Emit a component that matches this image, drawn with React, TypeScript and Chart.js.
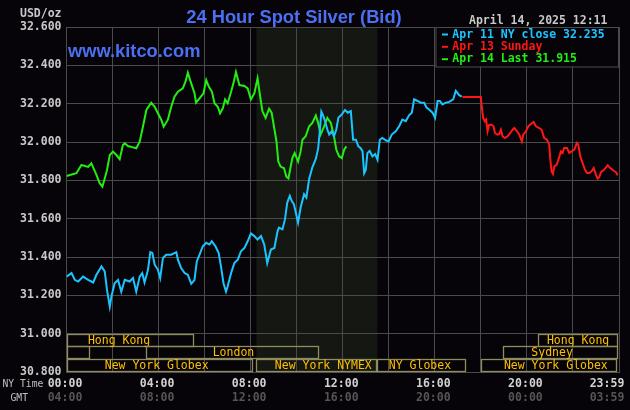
import React, { useEffect, useRef } from "react";
import { Chart, registerables } from "chart.js";

Chart.register(...registerables);

// ---- data (hours in NY time, price in USD/oz) ----
const apr11Hours = [0.00,0.22,0.36,0.51,0.72,0.94,1.16,1.30,1.52,1.66,1.76,1.88,1.95,2.09,2.24,2.38,2.53,2.74,2.89,3.03,3.18,3.29,3.39,3.54,3.64,3.73,3.83,3.97,4.07,4.19,4.33,4.55,4.77,4.84,4.98,5.13,5.27,5.42,5.56,5.66,5.78,5.92,6.07,6.21,6.31,6.47,6.61,6.71,6.82,6.93,7.00,7.15,7.29,7.44,7.58,7.73,7.87,8.01,8.16,8.30,8.45,8.59,8.72,8.88,9.03,9.17,9.23,9.38,9.49,9.59,9.70,9.78,9.88,9.96,10.06,10.17,10.32,10.42,10.54,10.68,10.83,10.93,11.00,11.07,11.14,11.23,11.33,11.41,11.52,11.62,11.72,11.81,11.96,12.10,12.22,12.35,12.45,12.57,12.68,12.78,12.86,12.93,13.00,13.07,13.17,13.29,13.41,13.51,13.61,13.72,13.87,13.99,14.13,14.30,14.45,14.59,14.74,14.88,15.00,15.10,15.25,15.39,15.54,15.64,15.75,15.90,16.01,16.12,16.22,16.33,16.48,16.62,16.80,16.91,17.06,17.17];
const apr11Values = [31.298,31.316,31.281,31.272,31.298,31.281,31.267,31.307,31.351,31.325,31.228,31.140,31.193,31.263,31.281,31.219,31.281,31.272,31.290,31.219,31.298,31.316,31.267,31.333,31.425,31.421,31.360,31.333,31.290,31.395,31.412,31.412,31.425,31.386,31.342,31.316,31.307,31.260,31.281,31.377,31.412,31.456,31.474,31.465,31.482,31.456,31.421,31.351,31.263,31.219,31.246,31.316,31.368,31.386,31.430,31.447,31.482,31.523,31.509,31.491,31.509,31.465,31.368,31.439,31.447,31.535,31.553,31.544,31.596,31.684,31.719,31.693,31.675,31.632,31.579,31.658,31.728,31.710,31.807,31.868,31.912,31.965,32.053,32.158,32.140,32.109,32.065,32.039,32.056,32.030,32.065,32.126,32.144,32.167,32.153,32.161,32.012,32.012,31.977,31.968,31.951,31.837,31.854,31.942,31.954,31.925,31.937,31.907,32.012,32.021,32.009,32.003,32.039,32.056,32.082,32.117,32.109,32.139,32.153,32.223,32.214,32.205,32.205,32.179,32.170,32.153,32.126,32.214,32.214,32.196,32.205,32.209,32.223,32.267,32.244,32.237];

const apr13Hours = [17.20,18.00,18.03,18.10,18.17,18.23,18.29,18.36,18.46,18.55,18.61,18.72,18.80,18.87,18.94,19.04,19.16,19.28,19.38,19.45,19.57,19.67,19.78,19.84,19.96,20.06,20.17,20.29,20.39,20.54,20.64,20.75,20.87,20.97,21.01,21.07,21.13,21.19,21.30,21.41,21.48,21.55,21.62,21.74,21.84,21.94,22.06,22.17,22.23,22.32,22.42,22.52,22.61,22.71,22.81,22.90,23.00,23.07,23.14,23.22,23.36,23.51,23.62,23.77,23.87,23.94];
const apr13Values = [32.235,32.235,32.195,32.125,32.108,32.117,32.056,32.090,32.090,32.082,32.047,32.038,32.042,32.064,32.030,32.021,32.030,32.047,32.064,32.073,32.056,32.038,32.003,32.038,32.056,32.082,32.094,32.104,32.082,32.073,32.064,32.021,32.012,31.986,31.917,31.847,31.833,31.873,31.882,31.925,31.951,31.943,31.969,31.969,31.943,31.951,31.960,31.995,31.986,31.925,31.890,31.856,31.838,31.838,31.847,31.864,31.830,31.809,31.816,31.843,31.856,31.878,31.864,31.850,31.843,31.826];

const apr14Hours = [0.00,0.43,0.65,0.94,1.08,1.30,1.44,1.56,1.66,1.76,1.88,2.02,2.17,2.31,2.45,2.53,2.67,2.89,3.03,3.18,3.32,3.47,3.68,3.83,3.97,4.12,4.22,4.40,4.55,4.69,4.84,5.05,5.17,5.27,5.37,5.49,5.56,5.63,5.78,5.95,6.07,6.18,6.32,6.43,6.57,6.67,6.79,6.89,7.00,7.15,7.25,7.36,7.51,7.73,7.87,8.01,8.16,8.30,8.43,8.51,8.65,8.80,8.91,9.01,9.12,9.20,9.30,9.45,9.55,9.64,9.74,9.81,9.91,10.06,10.17,10.25,10.39,10.54,10.68,10.83,10.93,11.04,11.19,11.33,11.48,11.62,11.72,11.84,11.96,12.06,12.16];
const apr14Values = [31.823,31.837,31.880,31.870,31.889,31.828,31.785,31.767,31.810,31.854,31.932,31.950,31.932,31.910,31.984,31.993,31.979,31.972,31.967,32.002,32.080,32.167,32.205,32.184,32.150,32.115,32.080,32.115,32.184,32.236,32.262,32.280,32.315,32.362,32.323,32.280,32.254,32.205,32.228,32.254,32.323,32.289,32.262,32.202,32.184,32.150,32.176,32.222,32.202,32.262,32.306,32.365,32.297,32.292,32.280,32.222,32.254,32.332,32.223,32.161,32.126,32.174,32.153,32.082,32.004,31.898,31.872,31.863,31.819,31.810,31.872,31.916,31.942,31.898,31.951,32.012,32.030,32.082,32.100,32.138,32.100,32.039,32.082,32.126,32.100,32.030,31.960,31.925,31.916,31.960,31.977];

const yMin = 30.8;
const yMax = 32.6;
const yStep = 0.2;
const xTickHours = [0, 4, 8, 12, 16, 20, 24];
const nyTimeLabels = ["00:00", "04:00", "08:00", "12:00", "16:00", "20:00", "23:59"];
const gmtLabels = ["04:00", "08:00", "12:00", "16:00", "20:00", "00:00", "03:59"];

const legendTexts = ["Apr 11 NY close 32.235", "Apr 13 Sunday", "Apr 14 Last 31.915"];
const seriesColors = ["#1cc4ff", "#ff1616", "#22ee11"];

const nymexStart = 8.25;
const nymexEnd = 13.5;

// sessions: row, start hour, end hour, label, label hour
const sessionRows = [0, 0, 1, 1, 1, 2, 2, 2, 2, 1, 0];
const sessionStarts = [0, 20.48, 0, 3.47, 18.96, 0, 8.25, 13.5, 18.02, 0, 0];
const sessionEnds = [5.47, 23.92, 0.94, 10.92, 23.92, 8.03, 13.46, 17.31, 23.88, 0, 0];
const sessionLabels = ["Hong Kong", "Hong Kong", "", "London", "Sydney", "New York Globex", "New York NYMEX", "NY Globex", "New York Globex", "", ""];
const sessionLabelAt = [0.93, 20.87, 0, 6.35, 20.19, 1.66, 9.05, 14.0, 19.0, 0, 0];

const BG = "#060408";
const GRID = "#4a4a4a";
const MONO = '"DejaVu Sans Mono", "Liberation Mono", monospace';
const SANS = '"Liberation Sans", Arial, sans-serif';

const decorPlugin = {
  id: "kitcoDecor",
  beforeDraw(chart: any) {
    const { ctx, chartArea, scales } = chart;
    ctx.save();
    ctx.fillStyle = BG;
    ctx.fillRect(0, 0, chart.width, chart.height);
    const x1 = scales.x.getPixelForValue(nymexStart);
    const x2 = scales.x.getPixelForValue(nymexEnd);
    ctx.fillStyle = "#151713";
    ctx.fillRect(x1, chartArea.top, x2 - x1, chartArea.bottom - chartArea.top);
    ctx.restore();
  },
  afterDatasetsDraw(chart: any) {
    const { ctx, chartArea, scales } = chart;
    const xs = scales.x;
    const ys = scales.y;
    ctx.save();

    // legend box
    const lx = 435.5, ly = chartArea.top, lw = chartArea.right - 435.5, lh = 39.5;
    ctx.fillStyle = BG;
    ctx.fillRect(lx, ly, lw, lh);
    ctx.strokeStyle = GRID;
    ctx.lineWidth = 1;
    ctx.strokeRect(lx + 0.5, ly + 0.5, lw - 1, lh);
    ctx.font = `bold 11.5px ${MONO}`;
    ctx.textBaseline = "alphabetic";
    ctx.textAlign = "left";
    const baselines = [37.5, 49.8, 62.2];
    legendTexts.forEach((t, i) => {
      ctx.fillStyle = seriesColors[i];
      ctx.fillRect(442, baselines[i] - 4, 6, 2);
      ctx.fillText(t, 452.3, baselines[i]);
    });

    // session boxes
    const top = ys.getPixelForValue(31.0);
    const bottom = ys.getPixelForValue(30.8);
    const rh = (bottom - top) / 3;
    ctx.strokeStyle = "#8f8d5f";
    ctx.lineWidth = 1.3;
    ctx.font = `11.5px ${MONO}`;
    ctx.fillStyle = "#ffc000";
    for (let i = 0; i < sessionRows.length; i++) {
      if (sessionEnds[i] <= sessionStarts[i]) continue;
      const r = sessionRows[i];
      const a = xs.getPixelForValue(sessionStarts[i]);
      const b = xs.getPixelForValue(sessionEnds[i]);
      const t = Math.round(top + r * rh) + 0.5;
      const h = Math.round(rh) - 1;
      ctx.strokeRect(Math.round(a) + 0.5, t, Math.round(b - a), h);
      if (sessionLabels[i]) {
        ctx.fillText(sessionLabels[i], xs.getPixelForValue(sessionLabelAt[i]), t + 9.3);
      }
    }
    ctx.restore();
  },
  afterDraw(chart: any) {
    const { ctx, scales } = chart;
    const xs = scales.x;
    ctx.save();
    // title
    ctx.fillStyle = "#4d6ff2";
    ctx.font = `bold 18.3px ${SANS}`;
    ctx.textAlign = "center";
    ctx.textBaseline = "alphabetic";
    ctx.fillText("24 Hour Spot Silver (Bid)", 294, 22.5);
    ctx.textAlign = "left";
    ctx.fillText("www.kitco.com", 68, 56.5);

    // date
    ctx.font = `bold 11.5px ${MONO}`;
    ctx.fillStyle = "#c8c8c8";
    ctx.fillText("April 14, 2025 12:11", 469, 24);
    // units
    ctx.textAlign = "right";
    ctx.fillText("USD/oz", 61.5, 17);

    // x labels
    ctx.textAlign = "left";
    ctx.font = `9.7px ${MONO}`;
    ctx.fillStyle = "#c0c0c0";
    ctx.fillText("NY Time", 2.5, 387);
    ctx.fillText("GMT", 10.5, 401);
    ctx.textAlign = "center";
    ctx.font = `bold 11.5px ${MONO}`;
    xTickHours.forEach((h, i) => {
      let x = xs.getPixelForValue(h) - 1.5;
      if (h === 24) x = xs.getPixelForValue(h) - 12;
      ctx.fillStyle = "#d2d2d2";
      ctx.fillText(nyTimeLabels[i], x, 387);
      ctx.fillStyle = "#555555";
      ctx.fillText(gmtLabels[i], x, 401);
    });
    ctx.restore();
  },
};

function toPoints(hours: number[], values: number[]) {
  return hours.map((h, i) => ({ x: h, y: values[i] }));
}

export default function App() {
  const ref = useRef<HTMLCanvasElement | null>(null);
  useEffect(() => {
    document.body.style.margin = "0";
    document.body.style.background = BG;
    if (!ref.current) return;
    const chart = new Chart(ref.current, {
      type: "line",
      data: {
        datasets: [
          { label: legendTexts[0], data: toPoints(apr11Hours, apr11Values), borderColor: seriesColors[0], borderWidth: 2, pointRadius: 0, tension: 0 },
          { label: legendTexts[1], data: toPoints(apr13Hours, apr13Values), borderColor: seriesColors[1], borderWidth: 2, pointRadius: 0, tension: 0 },
          { label: legendTexts[2], data: toPoints(apr14Hours, apr14Values), borderColor: seriesColors[2], borderWidth: 2, pointRadius: 0, tension: 0 },
        ],
      },
      options: {
        animation: false,
        responsive: false,
        maintainAspectRatio: false,
        devicePixelRatio: 1,
        layout: { padding: { top: 27, bottom: 38, left: 0, right: 11 } },
        plugins: { legend: { display: false }, tooltip: { enabled: false }, title: { display: false } },
        scales: {
          x: {
            type: "linear",
            min: 0,
            max: 24,
            ticks: { display: false, stepSize: 2 },
            grid: { color: GRID, drawTicks: false },
            border: { display: true, color: GRID },
            afterFit: (s: any) => { s.height = 0; },
          },
          y: {
            min: yMin,
            max: yMax,
            ticks: {
              stepSize: yStep,
              color: "#c8c8c8",
              font: { family: MONO, size: 11.5, weight: "bold" },
              padding: 5,
              callback: (v: any) => Number(v).toFixed(3),
            },
            grid: { color: GRID, drawTicks: false },
            border: { display: true, color: GRID },
            afterFit: (s: any) => { s.width = 66.5; },
          },
        },
      },
      plugins: [decorPlugin],
    } as any);
    return () => chart.destroy();
  }, []);
  return (
    <div style={{ position: "fixed", left: 0, top: 0, width: 630, height: 410, background: BG }}>
      <canvas ref={ref} width={630} height={410} style={{ width: 630, height: 410, display: "block" }} />
    </div>
  );
}
